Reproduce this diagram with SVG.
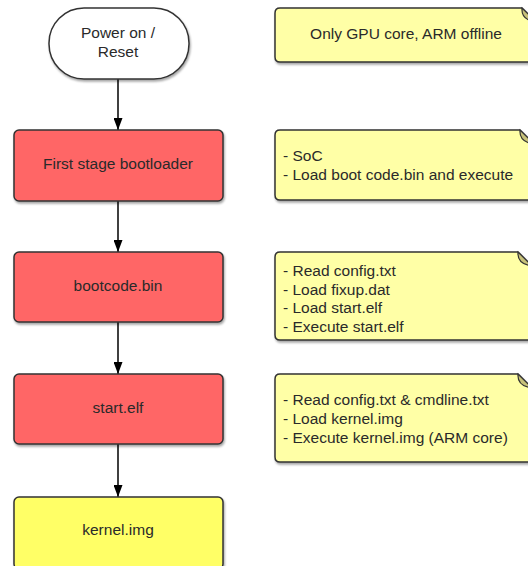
<svg xmlns="http://www.w3.org/2000/svg" width="528" height="566" viewBox="0 0 528 566">
  <defs>
    <marker id="arrow" viewBox="0 0 12 9" refX="12" refY="4.5" markerWidth="12" markerHeight="9" markerUnits="userSpaceOnUse" orient="auto">
      <path d="M0,0 L12,4.5 L0,9 Z" fill="#000"/>
    </marker>
    <filter id="shadow" x="-10%" y="-10%" width="130%" height="140%">
      <feDropShadow dx="1" dy="2" stdDeviation="1.2" flood-color="#000" flood-opacity="0.35"/>
    </filter>
    <style>
      .lbl { font-family: "Liberation Sans", Arial, sans-serif; font-size: 15.5px; fill: #2a2a2a; }
      .mid { text-anchor: middle; }
      .proc { fill: #ff6666; stroke: #333; stroke-width: 1.5; filter: url(#shadow); }
      .final { fill: #ffff66; stroke: #333; stroke-width: 1.5; filter: url(#shadow); }
      .term { fill: #fff; stroke: #333; stroke-width: 1.5; filter: url(#shadow); }
      .note { fill: #ffffa6; stroke: #333; stroke-width: 1.5; filter: url(#shadow); }
      .fold { fill: #c8c27a; stroke: #333; stroke-width: 1.2; }
      .edge { stroke: #000; stroke-width: 1.5; fill: none; marker-end: url(#arrow); }
    </style>
  </defs>

  <rect width="528" height="566" fill="#fff"/>

  <!-- connectors -->
  <g id="connectors">
    <line class="edge" x1="118" y1="79" x2="118" y2="130"/>
    <line class="edge" x1="118" y1="201" x2="118" y2="252"/>
    <line class="edge" x1="118" y1="322" x2="118" y2="374"/>
    <line class="edge" x1="118" y1="444" x2="118" y2="497"/>
  </g>

  <!-- flow nodes -->
  <g id="power-on">
    <rect class="term" x="49" y="8" width="140" height="71" rx="35" ry="35"/>
    <text class="lbl mid" x="118" y="38">Power on /</text>
    <text class="lbl mid" x="118" y="57">Reset</text>
  </g>
  <g id="first-stage">
    <rect class="proc" x="14" y="130" width="209" height="71" rx="5"/>
    <text class="lbl mid" x="118" y="169">First stage bootloader</text>
  </g>
  <g id="bootcode">
    <rect class="proc" x="14" y="252" width="209" height="70" rx="5"/>
    <text class="lbl mid" x="118" y="291">bootcode.bin</text>
  </g>
  <g id="start-elf">
    <rect class="proc" x="14" y="374" width="209" height="70" rx="5"/>
    <text class="lbl mid" x="118" y="413">start.elf</text>
  </g>
  <g id="kernel">
    <rect class="final" x="14" y="497" width="209" height="72" rx="5"/>
    <text class="lbl mid" x="118" y="535">kernel.img</text>
  </g>

  <!-- annotation notes (folded top-right corner) -->
  <g id="note-gpu">
    <path class="note" d="M280,8 H522 L536,22 V62 H280 Q275,62 275,57 V13 Q275,8 280,8 Z"/>
    <path class="fold" d="M522,8 Q521,20 536,22 Z"/>
    <text class="lbl mid" x="406" y="39">Only GPU core, ARM offline</text>
  </g>
  <g id="note-soc">
    <path class="note" d="M280,130 H520 L534,144 V200 H280 Q275,200 275,195 V135 Q275,130 280,130 Z"/>
    <path class="fold" d="M520,130 Q519,142 534,144 Z"/>
    <text class="lbl" x="283" y="161">- SoC</text>
    <text class="lbl" x="283" y="180">- Load boot code.bin and execute</text>
  </g>
  <g id="note-bootcode">
    <path class="note" d="M280,252 H518 L532,266 V340 H280 Q275,340 275,335 V257 Q275,252 280,252 Z"/>
    <path class="fold" d="M518,252 Q517,264 532,266 Z"/>
    <text class="lbl" x="283" y="276">- Read config.txt</text>
    <text class="lbl" x="283" y="295">- Load fixup.dat</text>
    <text class="lbl" x="283" y="313">- Load start.elf</text>
    <text class="lbl" x="283" y="332">- Execute start.elf</text>
  </g>
  <g id="note-start">
    <path class="note" d="M280,374 H518 L532,388 V462 H280 Q275,462 275,457 V379 Q275,374 280,374 Z"/>
    <path class="fold" d="M518,374 Q517,386 532,388 Z"/>
    <text class="lbl" x="283" y="405">- Read config.txt &amp; cmdline.txt</text>
    <text class="lbl" x="283" y="424">- Load kernel.img</text>
    <text class="lbl" x="283" y="443">- Execute kernel.img (ARM core)</text>
  </g>
</svg>
